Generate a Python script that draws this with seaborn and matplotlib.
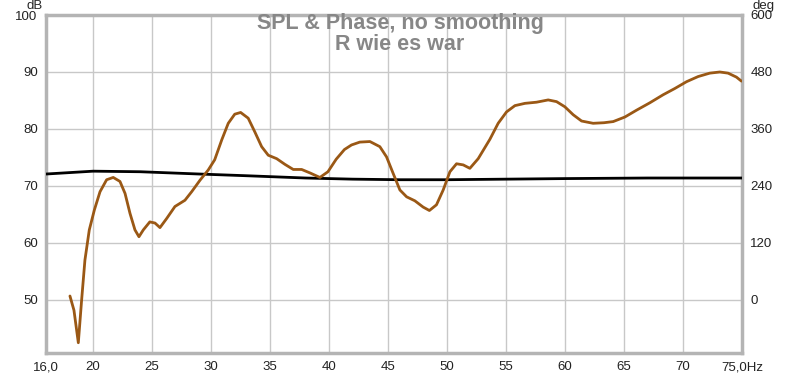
import pandas as pd
import matplotlib
matplotlib.use("Agg")
import matplotlib.pyplot as plt
import seaborn as sns

# SPL trace (brown)
spl_freq = [18.03, 18.37, 18.74, 19.02, 19.3, 19.67, 20.1, 20.58, 21.14, 21.7, 22.27, 22.7,
            23.12, 23.54, 23.88, 24.25, 24.8, 25.24, 25.66, 26.23, 26.93, 27.78, 28.35, 29.05,
            29.75, 30.3, 30.9, 31.45, 32.0, 32.5, 33.14, 33.7, 34.28, 34.84, 35.55, 36.25,
            36.96, 37.67, 38.37, 39.22, 39.9, 40.6, 41.3, 41.9, 42.6, 43.46, 44.3, 44.87,
            45.43, 46.0, 46.57, 47.27, 47.97, 48.5, 49.1, 49.67, 50.24, 50.8, 51.37, 51.93,
            52.64, 53.63, 54.33, 55.04, 55.75, 56.6, 57.58, 58.57, 59.28, 59.98, 60.69, 61.4,
            62.38, 63.3, 64.08, 65.07, 66.06, 67.19, 68.31, 69.3, 70.3, 71.28, 72.27, 73.12,
            73.82, 74.53, 74.95]
spl_db = [50.7, 48.2, 42.5, 50.0, 57.0, 62.3, 65.8, 69.0, 71.1, 71.5, 70.8, 68.7,
          65.2, 62.3, 61.1, 62.3, 63.7, 63.5, 62.7, 64.3, 66.4, 67.5, 69.0, 71.0,
          72.8, 74.6, 78.1, 81.0, 82.6, 82.9, 81.9, 79.5, 76.9, 75.4, 74.8, 73.8,
          72.9, 72.9, 72.3, 71.5, 72.5, 74.7, 76.4, 77.2, 77.7, 77.8, 76.9, 75.1,
          72.2, 69.3, 68.1, 67.4, 66.3, 65.7, 66.7, 69.3, 72.5, 73.9, 73.7, 73.1,
          74.8, 78.2, 81.0, 83.0, 84.1, 84.5, 84.7, 85.1, 84.8, 83.9, 82.5, 81.4,
          81.0, 81.1, 81.3, 82.1, 83.3, 84.6, 86.0, 87.1, 88.3, 89.2, 89.8, 90.0,
          89.8, 89.1, 88.4]

# second (black) trace
blk_freq = [16.0, 20.0, 24.0, 29.0, 33.0, 38.0, 42.0, 46.0, 50.0, 55.0, 60.0, 67.0, 75.0]
blk_db = [72.1, 72.6, 72.5, 72.1, 71.8, 71.4, 71.2, 71.1, 71.1, 71.2, 71.3, 71.4, 71.4]

x_ticks = [16, 20, 25, 30, 35, 40, 45, 50, 55, 60, 65, 70, 75]
x_labels = ["16,0", "20", "25", "30", "35", "40", "45", "50", "55", "60", "65", "70", "75,0Hz"]
db_ticks = [50, 60, 70, 80, 90, 100]
deg_ticks = [0, 120, 240, 360, 480, 600]

sns.set_style("white")
plt.rcParams["font.family"] = ["Liberation Sans", "DejaVu Sans"]

fig = plt.figure(figsize=(8, 3.74), dpi=100)
ax = fig.add_axes([46 / 800, 1 - 353 / 374, 696 / 800, 338 / 374])

df_spl = pd.DataFrame({"freq": spl_freq, "db": spl_db})
df_blk = pd.DataFrame({"freq": blk_freq, "db": blk_db})
sns.lineplot(data=df_blk, x="freq", y="db", ax=ax, color="black", lw=2, zorder=3)
sns.lineplot(data=df_spl, x="freq", y="db", ax=ax, color="#9a5815", lw=2, zorder=4)

ax.set_xlim(16, 75)
ax.set_ylim(40.7, 100)
ax.set_xticks(x_ticks)
ax.set_xticklabels(x_labels)
ax.set_yticks(db_ticks)
ax.set_xlabel("")
ax.set_ylabel("")
ax.grid(True, color="#c8c8c8", lw=1)
ax.tick_params(length=0, labelsize=9.5, pad=6, colors="#222222")
for s in ax.spines.values():
    s.set_color("#b4b4b4")
    s.set_linewidth(2.5)

ax2 = ax.twinx()
ax2.set_ylim((40.7 - 50) * 12, (100 - 50) * 12)
ax2.set_yticks(deg_ticks)
ax2.tick_params(length=0, labelsize=9.5, pad=6, colors="#222222")
for s in ax2.spines.values():
    s.set_visible(False)

fig.text(35 / 800, 1.0, "dB", ha="center", va="top", fontsize=9.5)
fig.text(764 / 800, 1.0, "deg", ha="center", va="top", fontsize=9.5)

fig.text(0.5, 1 - 23 / 374, "SPL & Phase, no smoothing", ha="center", va="center",
         fontsize=15.5, fontweight="bold", color="#878787")
fig.text(0.5, 1 - 44 / 374, "R wie es war", ha="center", va="center",
         fontsize=15.5, fontweight="bold", color="#878787")

fig.savefig("out.png", dpi=100)
